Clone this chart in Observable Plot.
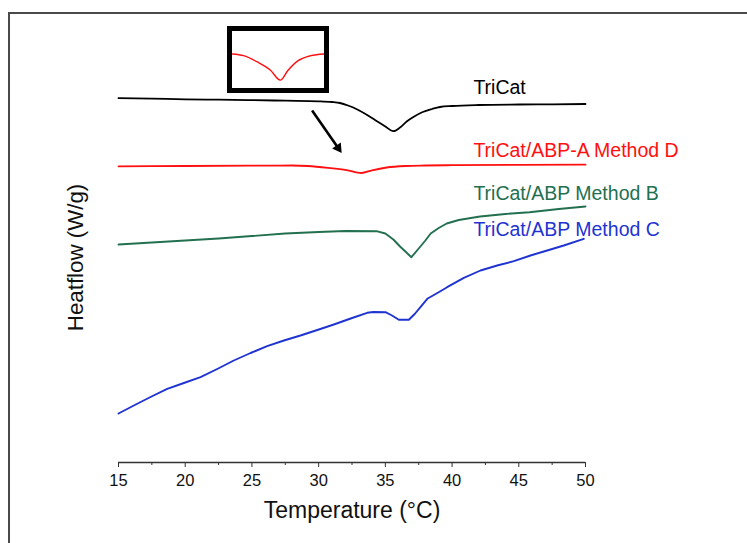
<!DOCTYPE html>
<html>
<head>
<meta charset="utf-8">
<script src="https://cdn.jsdelivr.net/npm/d3@7"></script>
<script src="https://cdn.jsdelivr.net/npm/@observablehq/plot@0.6"></script>
<style>
  html, body { margin: 0; padding: 0; background: #fff; }
  #wrap { position: relative; width: 747px; height: 543px; overflow: hidden; background: #fff; font-family: "Liberation Sans", Arial, sans-serif; }
  #frame { position: absolute; left: 8px; top: 12px; width: 760px; height: 540px; border-left: 2px solid #4a4a4a; border-top: 2px solid #4a4a4a; pointer-events: none; }
  #inset { position: absolute; left: 227px; top: 26px; width: 92px; height: 57px; border: 5px solid #000; background: #fff; overflow: hidden; }
  #main { position: absolute; left: 0; top: 0; }
</style>
</head>
<body>
<div id="wrap">
  <div id="main"></div>
  <div id="frame"></div>
  <div id="inset"></div>
</div>
<script>
// ---- Data (temperature in °C, heat flow in arbitrary offset units) ----
const tricatT = [15, 17.5, 20, 22.5, 25, 27.5, 30, 31, 31.6, 32.2, 32.9, 33.7, 34.4, 35.0, 35.6, 36.1, 36.6, 37.1, 37.8, 38.5, 39.1, 40, 42, 45, 47.5, 50];
const tricatHF = [3.643, 3.638, 3.632, 3.628, 3.624, 3.618, 3.612, 3.605, 3.595, 3.57, 3.53, 3.47, 3.41, 3.36, 3.313, 3.35, 3.41, 3.455, 3.505, 3.535, 3.555, 3.565, 3.575, 3.58, 3.582, 3.585];

const methodDT = [15, 20, 25, 28, 29.2, 30.7, 32.1, 33.2, 34, 35.1, 36.5, 38, 40, 45, 50];
const methodDHF = [2.962, 2.965, 2.968, 2.97, 2.965, 2.947, 2.924, 2.895, 2.922, 2.95, 2.965, 2.97, 2.973, 2.976, 2.978];

const methodBT = [15, 17.5, 20, 22.5, 25, 27.5, 30, 32, 34.4, 35.0, 35.6, 36.1, 36.5, 36.95, 37.5, 38, 38.4, 39.0, 39.6, 40.5, 42.1, 44, 45.8, 48, 50];
const methodBHF = [2.18, 2.20, 2.22, 2.24, 2.265, 2.29, 2.305, 2.315, 2.312, 2.29, 2.23, 2.16, 2.11, 2.053, 2.14, 2.22, 2.29, 2.345, 2.39, 2.425, 2.46, 2.485, 2.503, 2.535, 2.56];

const methodCT = [15.0, 16.15, 17.4, 18.65, 19.9, 21.15, 22.4, 23.64, 24.9, 26.14, 27.4, 28.64, 29.9, 31.14, 32.4, 33.64, 34.1, 35.01, 35.5, 36.01, 36.76, 37.2, 37.63, 38.14, 38.9, 39.63, 40.88, 42.13, 43.38, 44.63, 45.88, 47.13, 48.37, 49.87];
const methodCHF = [0.49, 0.57, 0.655, 0.737, 0.795, 0.853, 0.935, 1.02, 1.095, 1.163, 1.22, 1.27, 1.325, 1.38, 1.44, 1.497, 1.505, 1.503, 1.47, 1.427, 1.427, 1.485, 1.553, 1.637, 1.695, 1.753, 1.847, 1.92, 1.97, 2.013, 2.07, 2.12, 2.17, 2.237];

const seriesNames = ["TriCat", "TriCat/ABP-A Method D", "TriCat/ABP Method B", "TriCat/ABP Method C"];
const seriesColors = ["#000000", "#ff1010", "#22704f", "#1f33d1"];
const labelX = [41.6, 41.6, 41.6, 41.6];
const labelY = [3.75, 3.12, 2.683, 2.33];

const xTicks = [15, 20, 25, 30, 35, 40, 45, 50];
const xMinorTicks = [17.5, 22.5, 27.5, 32.5, 37.5, 42.5, 47.5];

// arrow annotation (from -> to, in data units)
const arrowFrom = {x: 29.51, y: 3.52};
const arrowHead = {x: 31.466, y: 3.145};

// inset zoom window on the Method D dip
const insetX = [28, 38];
const insetY = [2.871, 3.0343];

// ---- Build tables ----
const seriesT = [tricatT, methodDT, methodBT, methodCT];
const seriesHF = [tricatHF, methodDHF, methodBHF, methodCHF];
const rows = [];
seriesNames.forEach((name, i) => {
  seriesT[i].forEach((t, j) => rows.push({series: name, T: t, HF: seriesHF[i][j]}));
});
const smoothRows = rows.filter(d => d.series === seriesNames[0] || d.series === seriesNames[1]);
const sharpRows = rows.filter(d => d.series === seriesNames[2] || d.series === seriesNames[3]);
const labels = seriesNames.map((name, i) => ({series: name, x: labelX[i], y: labelY[i]}));

const font = "'Liberation Sans', Arial, Helvetica, sans-serif";

const main = Plot.plot({
  width: 747,
  height: 543,
  marginLeft: 118,
  marginRight: 162,
  marginTop: 13,
  marginBottom: 81,
  style: {fontFamily: font, fontSize: "16px", color: "#111", background: "transparent"},
  x: {domain: [15, 50]},
  y: {domain: [0, 4.49], axis: null},
  color: {domain: seriesNames, range: seriesColors},
  marks: [
    Plot.ruleY([0], {stroke: "#333", strokeWidth: 1.4}),
    Plot.axisX({ticks: xTicks, tickSize: 5, tickFormat: () => "", label: null, stroke: "#333"}),
    Plot.axisX({ticks: xMinorTicks, tickSize: 3, tickFormat: () => "", label: null, stroke: "#333"}),
    Plot.text(xTicks, {x: d => d, frameAnchor: "bottom", dy: 23, text: d => String(d), fontSize: 16.5, fill: "#111"}),
    Plot.text(["Temperature (°C)"], {frameAnchor: "bottom", dy: 55, fontSize: 23, fill: "#111"}),
    Plot.text(["Heatflow (W/g)"], {frameAnchor: "left", textAnchor: "middle", dx: -43, dy: 19.5, rotate: -90, fontSize: 22.3, fill: "#111"}),
    Plot.line(smoothRows, {x: "T", y: "HF", z: "series", stroke: "series", strokeWidth: 1.8, curve: "monotone-x"}),
    Plot.line(sharpRows, {x: "T", y: "HF", z: "series", stroke: "series", strokeWidth: 1.9, curve: "linear"}),
    Plot.link([arrowFrom], {x1: "x", y1: "y", x2: () => arrowHead.x, y2: () => arrowHead.y, stroke: "#000", strokeWidth: 2.6}),
    Plot.dot([arrowHead], {x: "x", y: "y", symbol: "triangle", r: 3.9, fill: "#000", stroke: "none", rotate: 145.3}),
    Plot.text(labels, {x: "x", y: "y", text: "series", fill: "series", textAnchor: "start", fontSize: 19.5})
  ]
});
document.getElementById("main").appendChild(main);

const insetRows = rows.filter(d => d.series === seriesNames[1] && d.T >= insetX[0] && d.T <= insetX[1]);
const inset = Plot.plot({
  width: 92,
  height: 57,
  margin: 0,
  style: {background: "#fff"},
  x: {domain: insetX, axis: null},
  y: {domain: insetY, axis: null},
  marks: [
    Plot.line(insetRows, {x: "T", y: "HF", stroke: seriesColors[1], strokeWidth: 1.4, curve: "monotone-x"})
  ]
});
document.getElementById("inset").appendChild(inset);
</script>
</body>
</html>
